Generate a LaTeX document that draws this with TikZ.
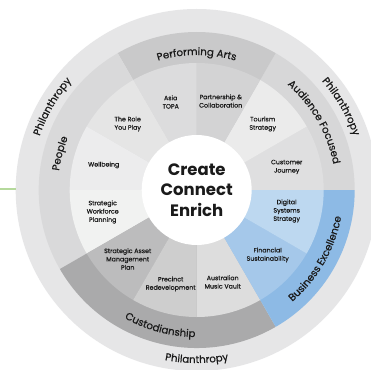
\documentclass[tikz,border=0pt]{standalone}
\usepackage{fontspec}
\setmainfont{Poppins}
\newfontfamily\labfont[FakeBold=0.4]{Poppins}
\newfontfamily\ringfam[FakeBold=0.6]{Poppins}
\usetikzlibrary{decorations.text}
\definecolor{outerring}{HTML}{E6E6E7}
\definecolor{bandAud}{HTML}{D7D7D8}
\definecolor{bandPerf}{HTML}{C9C9CA}
\definecolor{bandPeople}{HTML}{D9D9DA}
\definecolor{bandCust}{HTML}{AAAAAB}
\definecolor{bandBus}{HTML}{8DBAE5}
\definecolor{sCust}{HTML}{DFDFE0}
\definecolor{sTour}{HTML}{EBEBEB}
\definecolor{sPart}{HTML}{D3D3D4}
\definecolor{sAsia}{HTML}{DCDCDD}
\definecolor{sRole}{HTML}{E5E5E5}
\definecolor{sWell}{HTML}{ECECED}
\definecolor{sSWP}{HTML}{F1F2F1}
\definecolor{sSAMP}{HTML}{BCBCBD}
\definecolor{sPrec}{HTML}{CECECE}
\definecolor{sAMV}{HTML}{DDDDDD}
\definecolor{sFin}{HTML}{A5C8EA}
\definecolor{sDig}{HTML}{BDD8F0}
\definecolor{txt}{HTML}{1A1A1A}
\definecolor{leaf}{HTML}{B5D99C}
\newcommand{\mysector}[4]{\fill[#1] (0,0) -- (#2:#4) arc[start angle=#2, end angle=#3, radius=#4] -- cycle;}
\newcommand{\ringfont}{\ringfam\fontsize{10.2}{11}\selectfont}
\begin{document}
\begin{tikzpicture}[
  lab/.style={align=center, text=txt, inner sep=0pt, font=\labfont\fontsize{6.3}{8.3}\selectfont},
  hub/.style={circle, fill=white, minimum size=110pt, inner sep=0pt, align=center, text=txt,
    font=\bfseries\fontsize{16.5}{20.7}\selectfont},
  greenline/.style={draw=leaf, line width=1.2pt},
  ringtext/.style={decorate, decoration={text along path, text align=center, text color=txt, text={|\ringfont|#1}}}
]
\useasboundingbox (-196.7pt,-179pt) rectangle (174.3pt,190pt);
\clip (-196.7pt,-179pt) rectangle (174.3pt,190pt);
\fill[white] (-196.7pt,-179pt) rectangle (174.3pt,190pt);
% outer ring
\fill[outerring] (0,0) circle[radius=181pt];
% middle band
\mysector{bandAud}{0}{60}{158pt}
\mysector{bandPerf}{60}{120}{158pt}
\mysector{bandPeople}{120}{210}{158pt}
\mysector{bandCust}{210}{300}{158pt}
\mysector{bandBus}{300}{360}{158pt}
% inner segments
\mysector{sCust}{0}{30}{127pt}
\mysector{sTour}{30}{60}{127pt}
\mysector{sPart}{60}{90}{127pt}
\mysector{sAsia}{90}{120}{127pt}
\mysector{sRole}{120}{150}{127pt}
\mysector{sWell}{150}{180}{127pt}
\mysector{sSWP}{180}{210}{127pt}
\mysector{sSAMP}{210}{240}{127pt}
\mysector{sPrec}{240}{270}{127pt}
\mysector{sAMV}{270}{300}{127pt}
\mysector{sFin}{300}{330}{127pt}
\mysector{sDig}{330}{360}{127pt}
% hub
\node[hub] (hub) at (0,0) {Create\\Connect\\Enrich};
% segment labels
\node[lab] (asia) at (-26pt,88pt) {Asia\\TOPA};
\node[lab] (part) at (24pt,89pt) {Partnership \&\\Collaboration};
\node[lab] (role) at (-69pt,66pt) {The Role\\You Play};
\node[lab] (tour) at (66pt,66pt) {Tourism\\Strategy};
\node[lab] (well) at (-93pt,25pt) {Wellbeing};
\node[lab] (cust) at (90pt,23pt) {Customer\\Journey};
\node[lab] (swp) at (-94pt,-22pt) {Strategic\\Workforce\\Planning};
\node[lab] (dig) at (90pt,-21pt) {Digital\\Systems\\Strategy};
\node[lab] (samp) at (-69pt,-69pt) {Strategic Asset\\Management\\Plan};
\node[lab] (fin) at (71pt,-65pt) {Financial\\Sustainability};
\node[lab] (prec) at (-26pt,-94pt) {Precinct\\Redevelopment};
\node[lab] (amv) at (26pt,-92pt) {Australian\\Music Vault};
% band labels
\path[ringtext={Performing Arts}] (130:135pt) arc[start angle=130, end angle=50, radius=135pt];
\path[ringtext={Audience Focused}] (70:139pt) arc[start angle=70, end angle=-10, radius=139pt];
\path[ringtext={Business Excellence}] (-70:147pt) arc[start angle=-70, end angle=10, radius=147pt];
\path[ringtext={Custodianship}] (215:147pt) arc[start angle=215, end angle=295, radius=147pt];
\path[ringtext={People}] (205:139pt) arc[start angle=205, end angle=125, radius=139pt];
% philanthropy labels
\path[ringtext={Philanthropy}] (190:166pt) arc[start angle=190, end angle=110, radius=166pt];
\path[ringtext={Philanthropy}] (70:166pt) arc[start angle=70, end angle=-10, radius=166pt];
\path[ringtext={Philanthropy}] (230:173pt) arc[start angle=230, end angle=310, radius=173pt];
% green line
\coordinate (g1) at (-196.7pt,1pt);
\coordinate (g2) at (-181pt,1pt);
\draw[greenline] (g1) -- (g2);
\end{tikzpicture}
\end{document}
